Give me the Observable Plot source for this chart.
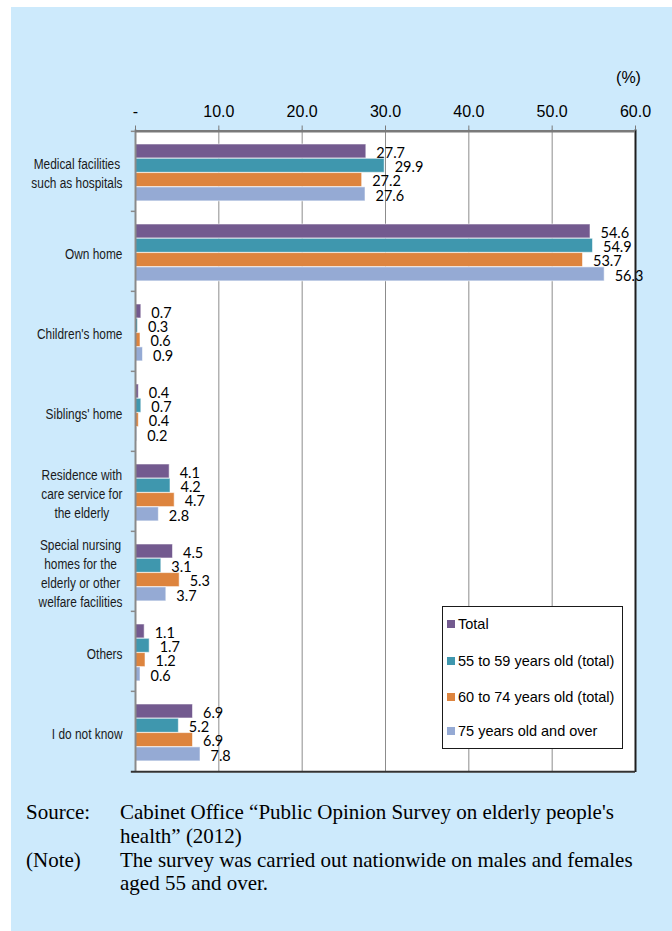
<!DOCTYPE html>
<html><head><meta charset="utf-8">
<script src="https://cdn.jsdelivr.net/npm/d3@7"></script>
<script src="https://cdn.jsdelivr.net/npm/@observablehq/plot@0.6"></script>
<style>
html,body{margin:0;padding:0;background:#fff;width:672px;height:931px;overflow:hidden;}
#panel{position:absolute;left:11px;top:7px;width:661px;height:924px;background:#cdeafc;}
#chart{position:absolute;left:0;top:0;}
#legend{position:absolute;left:431px;top:599px;width:179px;height:141px;background:#fff;border:1px solid #1a1a1a;font-family:"Liberation Sans",Arial,sans-serif;font-size:14.5px;color:#000;z-index:2;}
#legend .row{position:absolute;left:4px;display:flex;align-items:center;height:20px;white-space:nowrap;}
#legend .sw{width:8px;height:8px;margin-right:3px;flex:none;}
#caption{position:absolute;left:15px;top:794px;font-family:"Liberation Serif","Times New Roman",serif;font-size:21px;line-height:23.8px;color:#000;}
#caption .r{display:flex;}
#caption .k{width:94px;flex:none;}
#caption .v{width:522px;}
</style></head>
<body>
<div id="panel">
  <div id="chart"></div>
  <div id="legend"></div>
  <div id="caption"></div>
</div>
<script>
const categories = [
  "Medical facilities\nsuch as hospitals",
  "Own home",
  "Children's home",
  "Siblings' home",
  "Residence with\ncare service for\nthe elderly",
  "Special nursing\nhomes for the\nelderly or other\nwelfare facilities",
  "Others",
  "I do not know"
];
const seriesNames = ["Total", "55 to 59 years old (total)", "60 to 74 years old (total)", "75 years old and over"];
const total      = [27.7, 54.6, 0.7, 0.4, 4.1, 4.5, 1.1, 6.9];
const age55to59  = [29.9, 54.9, 0.3, 0.7, 4.2, 3.1, 1.7, 5.2];
const age60to74  = [27.2, 53.7, 0.6, 0.4, 4.7, 5.3, 1.2, 6.9];
const age75plus  = [27.6, 56.3, 0.9, 0.2, 2.8, 3.7, 0.6, 7.8];
const xTicks = [0, 10, 20, 30, 40, 50, 60];
const xTickLabels = ["-", "10.0", "20.0", "30.0", "40.0", "50.0", "60.0"];
const unitLabel = "(%)";
const sourceLabel = "Source:";
const sourceText = "Cabinet Office \u201cPublic Opinion Survey on elderly people's health\u201d (2012)";
const noteLabel = "(Note)";
const noteText = "The survey was carried out nationwide on males and females aged 55 and over.";

const seriesValues = [total, age55to59, age60to74, age75plus];
const colors = ["#735a8f", "#3f97ae", "#dd843e", "#95aad4"];

const W = 661, H = 785, mL = 124, mR = 37, mT = 122.5, mB = 20;
const step = (H - mT - mB) / categories.length;
const barH = 14.3, topGap = 13;
const catFont = '"Liberation Sans", Arial, sans-serif';
const catSize = 14.5;
const catFill = "#1a1a1b";
const narrow = 0.82;
const ctx = document.createElement("canvas").getContext("2d");
ctx.font = `${catSize}px ${catFont}`;

const marks = [];
marks.push(Plot.frame({fill: "white", stroke: null}));
marks.push(Plot.ruleX(xTicks.slice(1, -1), {stroke: "#8c8c8c", strokeWidth: 1}));

seriesValues.forEach((vals, k) => {
  const data = categories.map((c, i) => ({c, v: vals[i]}));
  marks.push(Plot.barX(data, {
    x: "v", y: "c", fill: colors[k],
    stroke: "white", strokeOpacity: 0.55, strokeWidth: 1,
    insetTop: topGap + k * barH,
    insetBottom: step - topGap - (k + 1) * barH
  }));
  marks.push(Plot.text(data, {
    x: "v", y: "c", text: d => d.v.toFixed(1),
    dx: 10, dy: topGap + k * barH + barH / 2 - step / 2 + 1.5,
    textAnchor: "start", fontFamily: "Lato, 'Open Sans', sans-serif", fontSize: 14.5, fill: "#000"
  }));
});

// borders
marks.push(Plot.ruleX([0], {stroke: "#8a8a8a", strokeWidth: 2}));
marks.push(Plot.ruleX([60], {stroke: "#1e1e1e", strokeWidth: 2}));
marks.push(Plot.ruleY([categories[categories.length - 1]], {y: d => d, x1: -0.5, x2: 60, dy: step / 2, stroke: "#333", strokeWidth: 2}));
marks.push(Plot.ruleY([categories[0]], {y: d => d, x1: 0, x2: 60, dy: -step / 2, stroke: "#7a7a7a", strokeWidth: 2.5}));
// category boundary ticks
marks.push(Plot.ruleY(categories, {y: d => d, x1: -0.5, x2: 0, dy: -step / 2, stroke: "#8a8a8a", strokeWidth: 1.5}));

// category labels (block right-aligned, lines centred)
categories.forEach(c => {
  const w = narrow * Math.max(...c.split("\n").map(s => ctx.measureText(s).width));
  marks.push(Plot.text([c], {
    x: 0, y: d => d, text: d => d,
    textAnchor: "middle", dx: -(13 + w / 2), dy: 1,
    lineHeight: 19 / catSize,
    fontFamily: catFont, fontSize: catSize, fill: catFill
  }));
});

marks.push(Plot.axisX({
  anchor: "top", ticks: xTicks,
  tickFormat: d => xTickLabels[xTicks.indexOf(d)],
  tickSize: 5, tickPadding: 8, stroke: "#7a7a7a",
  fontSize: 16, fill: "#000", label: null,
  fontFamily: '"Liberation Sans", Arial, sans-serif'
}));
marks.push(Plot.text([unitLabel], {
  frameAnchor: "top-right", text: d => d, textAnchor: "middle",
  dx: -7, dy: -58, fontSize: 16, fill: "#000",
  fontFamily: '"Liberation Sans", Arial, sans-serif'
}));

const chart = Plot.plot({
  width: W, height: H,
  marginLeft: mL, marginRight: mR, marginTop: mT, marginBottom: mB,
  style: {background: "transparent", overflow: "visible"},
  x: {domain: [0, 60], axis: null},
  y: {domain: categories, type: "band", padding: 0, axis: null},
  marks
});
// condense category labels horizontally (narrow-font look)
chart.querySelectorAll(`[fill="${catFill}"]`).forEach(el => {
  const texts = el.tagName.toLowerCase() === "text" ? [el] : Array.from(el.querySelectorAll("text"));
  texts.forEach(t => {
    const tr = t.getAttribute("transform") || "";
    t.setAttribute("transform", tr + ` scale(${narrow},1)`);
  });
});
document.getElementById("chart").appendChild(chart);

// legend
const leg = document.getElementById("legend");
const rowCenters = [17, 54, 90, 124];
seriesNames.forEach((n, k) => {
  const r = document.createElement("div");
  r.className = "row";
  r.style.top = (rowCenters[k] - 10) + "px";
  const sw = document.createElement("span");
  sw.className = "sw"; sw.style.background = colors[k];
  const t = document.createElement("span");
  t.textContent = n;
  r.appendChild(sw); r.appendChild(t);
  leg.appendChild(r);
});

// caption
const cap = document.getElementById("caption");
[[sourceLabel, sourceText], [noteLabel, noteText]].forEach(([a, b]) => {
  const r = document.createElement("div"); r.className = "r";
  const k = document.createElement("div"); k.className = "k"; k.textContent = a;
  const v = document.createElement("div"); v.className = "v"; v.textContent = b;
  r.appendChild(k); r.appendChild(v); cap.appendChild(r);
});
</script>
</body></html>
